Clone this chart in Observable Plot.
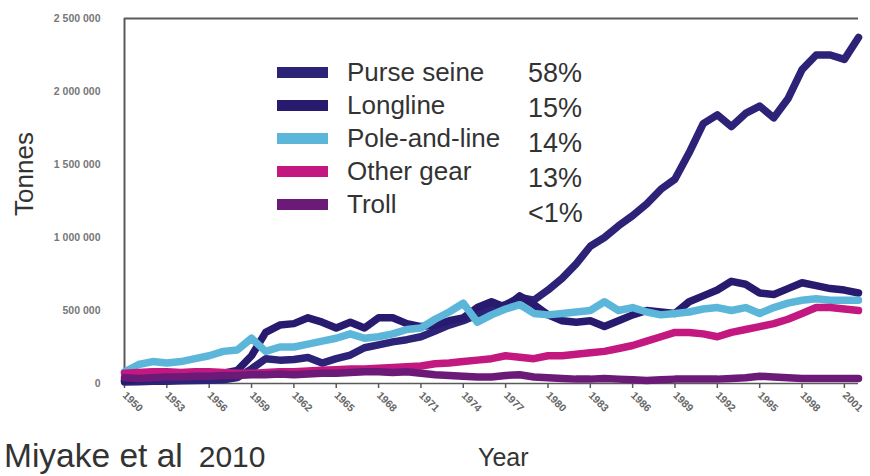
<!DOCTYPE html>
<html>
<head>
<meta charset="utf-8">
<script src="https://cdn.jsdelivr.net/npm/d3@7"></script>
<script src="https://cdn.jsdelivr.net/npm/@observablehq/plot@0.6"></script>
<style>
  body { margin: 0; background: #fff; }
  #wrap { position: relative; width: 870px; height: 476px; overflow: hidden;
          font-family: "Liberation Sans", Arial, sans-serif; color: #333; }
  #wrap svg { position: absolute; left: 0; top: 0; }
  .lbl { position: absolute; white-space: nowrap; color: #333; }
  .sw { position: absolute; width: 51px; height: 11px; }
</style>
</head>
<body>
<div id="wrap"></div>
<script>
// Global tuna catch by gear type, thousand tonnes per year
const years = [1950,1951,1952,1953,1954,1955,1956,1957,1958,1959,
               1960,1961,1962,1963,1964,1965,1966,1967,1968,1969,
               1970,1971,1972,1973,1974,1975,1976,1977,1978,1979,
               1980,1981,1982,1983,1984,1985,1986,1987,1988,1989,
               1990,1991,1992,1993,1994,1995,1996,1997,1998,1999,
               2000,2001,2002];

const purseSeine = [10,12,15,15,18,20,22,25,40,100,
                    170,160,165,178,140,170,195,245,265,285,
                    300,320,360,400,430,470,510,540,590,570,
                    640,720,820,940,1000,1080,1150,1230,1330,1400,
                    1580,1780,1840,1760,1850,1900,1820,1950,2150,2250,
                    2250,2220,2370];

const longline = [20,30,40,45,50,55,60,70,90,190,
                  350,400,410,450,420,380,420,380,450,450,
                  410,390,400,430,450,520,560,520,600,540,
                  470,430,420,430,390,430,470,500,490,480,
                  560,600,640,700,680,620,610,650,690,670,
                  650,640,620];

const poleAndLine = [80,130,150,140,150,170,190,220,230,310,
                     220,250,250,270,290,310,340,310,320,340,
                     370,380,440,490,550,420,470,510,540,480,
                     470,480,490,500,560,500,520,490,470,480,
                     490,510,520,500,520,480,520,550,570,580,
                     570,570,570];

const otherGear = [70,75,80,80,75,80,80,75,70,70,
                   75,80,80,85,90,95,100,100,105,110,
                   115,120,135,140,150,160,170,190,180,170,
                   190,190,200,210,220,240,260,290,320,350,
                   350,340,320,350,370,390,410,440,480,520,
                   520,510,500];

const troll = [40,35,40,45,45,50,50,55,55,60,
               60,65,60,65,70,70,75,80,80,75,
               80,70,60,55,50,45,45,55,60,45,
               40,35,30,30,35,30,25,20,25,30,
               30,30,30,35,40,50,45,40,35,35,
               35,35,35];

const gears    = ["Purse seine", "Longline", "Pole-and-line", "Other gear", "Troll"];
const shares   = ["58%", "15%", "14%", "13%", "<1%"];
const colors   = ["#2c2277", "#281a6e", "#5cb6d9", "#c2187f", "#6c1a78"];
const seriesKt = [purseSeine, longline, poleAndLine, otherGear, troll];

const yTicks = [0, 500000, 1000000, 1500000, 2000000, 2500000];
const xTicks = [1950,1953,1956,1959,1962,1965,1968,1971,1974,1977,
                1980,1983,1986,1989,1992,1995,1998,2001];

// long-format table for the line mark
const rows = [];
gears.forEach((g, i) => {
  seriesKt[i].forEach((v, j) => rows.push({gear: g, year: years[j], tonnes: v * 1000}));
});

const axisGrey = "#5a5a5a";

const chart = Plot.plot({
  width: 870,
  height: 476,
  marginLeft: 124,
  marginRight: 12,
  marginTop: 18,
  marginBottom: 93,
  style: {fontFamily: "'Liberation Sans', Arial, sans-serif", background: "transparent"},
  x: {domain: [1950, 2002]},
  y: {domain: [0, 2500000]},
  color: {domain: gears, range: colors},
  marks: [
    Plot.axisY({
      ticks: yTicks, tickSize: 0, tickPadding: 24, label: null,
      tickFormat: d => d3.format(",")(d).replace(/,/g, " "),
      fontSize: 10.5, fontWeight: "bold", fill: "#777"
    }),
    Plot.axisX({
      ticks: xTicks, tickSize: 5, tickPadding: 5, tickRotate: 45, label: null,
      tickFormat: d => String(d), fontSize: 10.5, fontWeight: "bold",
      fill: "#666", stroke: axisGrey, strokeWidth: 1.5
    }),
    Plot.ruleY([0], {stroke: axisGrey, strokeWidth: 1.5}),
    Plot.ruleY([2500000], {stroke: axisGrey, strokeWidth: 2}),
    Plot.ruleX([1950], {stroke: axisGrey, strokeWidth: 2}),
    Plot.lineY(rows, {
      x: "year", y: "tonnes", z: "gear", stroke: "gear",
      strokeWidth: 7.5, strokeLinejoin: "round", strokeLinecap: "round"
    })
  ]
});

const wrap = document.getElementById("wrap");
wrap.appendChild(chart);

// legend inside the plot area
gears.forEach((g, i) => {
  const cy = 72 + i * 33;
  const sw = document.createElement("div");
  sw.className = "sw";
  sw.style.left = "277px";
  sw.style.top = (cy - 5.5) + "px";
  sw.style.background = colors[i];
  wrap.appendChild(sw);

  const t = document.createElement("div");
  t.className = "lbl";
  t.textContent = g;
  t.style.left = "347px";
  t.style.top = (cy - 15) + "px";
  t.style.fontSize = "26px";
  t.style.lineHeight = "30px";
  wrap.appendChild(t);

  const p = document.createElement("div");
  p.className = "lbl";
  p.textContent = shares[i];
  p.style.left = "528px";
  p.style.top = (73 + i * 35 - 15) + "px";
  p.style.fontSize = "27px";
  p.style.lineHeight = "30px";
  wrap.appendChild(p);
});

function addText(txt, css) {
  const d = document.createElement("div");
  d.className = "lbl";
  d.textContent = txt;
  Object.assign(d.style, css);
  wrap.appendChild(d);
  return d;
}

// vertical axis title, rotated about its own centre
addText("Tonnes", {left: "-26px", top: "161px", width: "100px", textAlign: "center",
                   fontSize: "26px", lineHeight: "26px",
                   transform: "rotate(-90deg)", transformOrigin: "50% 50%"});
addText("Year", {left: "478px", top: "444px", fontSize: "25px", lineHeight: "26px"});
const src = addText("", {left: "4px", top: "438px", lineHeight: "36px"});
src.innerHTML = '<span style="font-size:33.5px">Miyake et al</span>' +
                '<span style="font-size:30px;margin-left:16px">2010</span>';
</script>
</body>
</html>
